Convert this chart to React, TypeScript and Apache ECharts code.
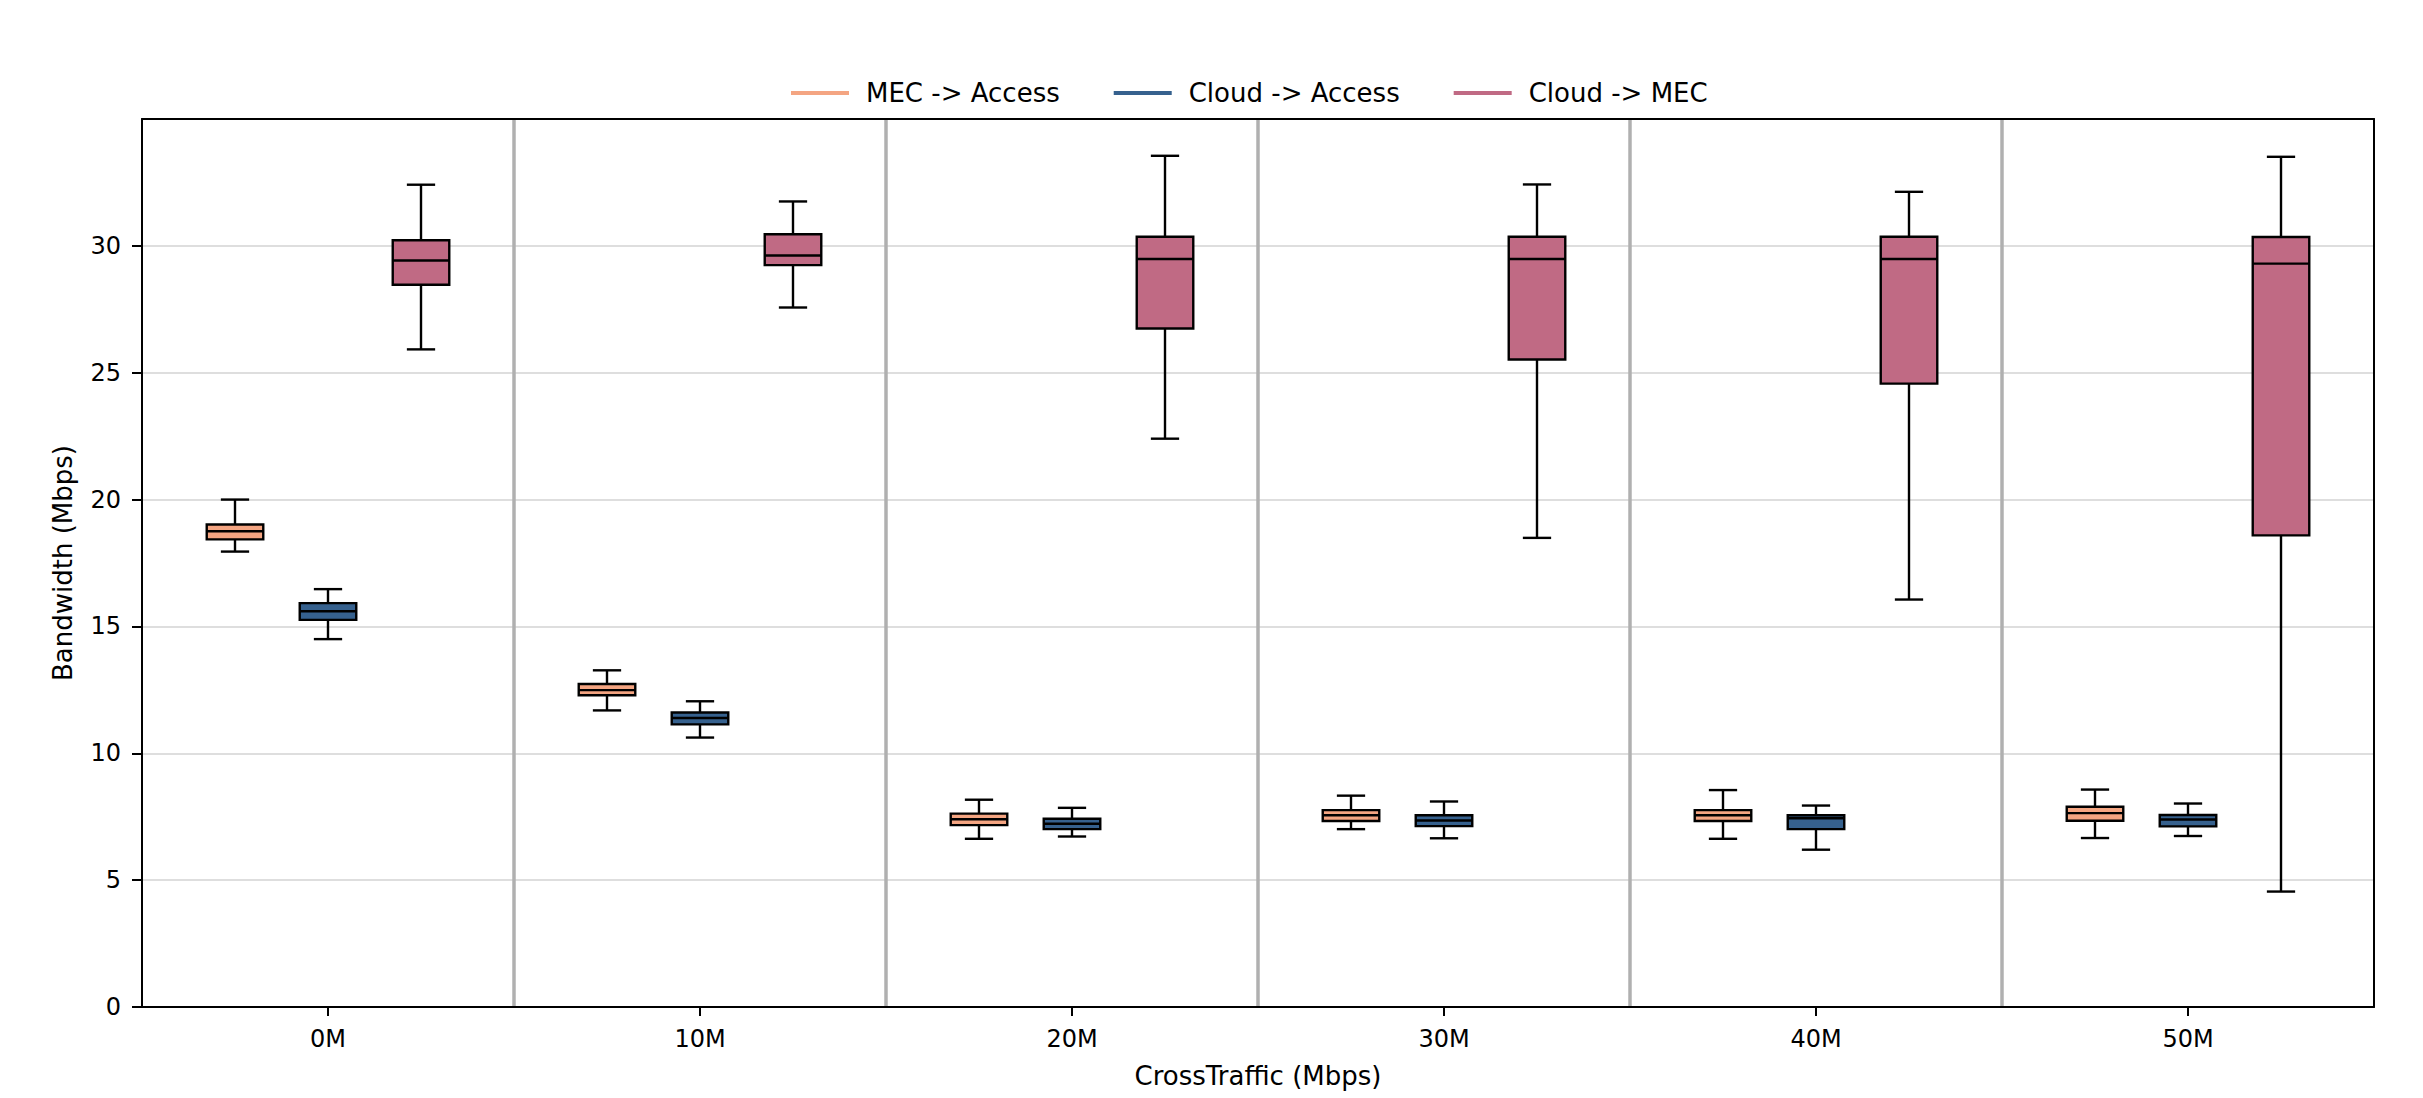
import React, { useEffect, useRef } from "react";
import * as echarts from "echarts";

// Categories (cross traffic)
const categories = ["0M", "10M", "20M", "30M", "40M", "50M"];

// Box statistics per category: [lowWhisker, Q1, median, Q3, highWhisker]
const mecToAccess = [
  [17.95, 18.43, 18.75, 19.02, 20.0],
  [11.69, 12.29, 12.49, 12.73, 13.27],
  [6.63, 7.17, 7.4, 7.62, 8.17],
  [7.01, 7.33, 7.56, 7.76, 8.33],
  [6.63, 7.33, 7.56, 7.76, 8.55],
  [6.66, 7.34, 7.64, 7.89, 8.57],
];
const cloudToAccess = [
  [14.5, 15.26, 15.6, 15.92, 16.47],
  [10.62, 11.14, 11.39, 11.61, 12.05],
  [6.72, 7.01, 7.22, 7.42, 7.85],
  [6.65, 7.13, 7.35, 7.56, 8.1],
  [6.2, 7.01, 7.44, 7.56, 7.94],
  [6.74, 7.12, 7.39, 7.57, 8.02],
];
const cloudToMec = [
  [25.92, 28.47, 29.42, 30.22, 32.41],
  [27.57, 29.24, 29.62, 30.46, 31.75],
  [22.4, 26.74, 29.48, 30.36, 33.55],
  [18.49, 25.52, 29.48, 30.36, 32.42],
  [16.06, 24.57, 29.48, 30.36, 32.13],
  [4.55, 18.59, 29.3, 30.35, 33.51],
];

const seriesNames = ["MEC -> Access", "Cloud -> Access", "Cloud -> MEC"];
const seriesColors = ["#f4a582", "#36618e", "#c06a84"];
const seriesOffsets = [-0.25, 0, 0.25];
const seriesData = [mecToAccess, cloudToAccess, cloudToMec];

const yTicks = { min: 0, max: 35, interval: 5 };

const FONT = "DejaVu Sans";

function makeRenderItem(offset: number, color: string) {
  return (params: any, api: any) => {
    const xi = api.value(0);
    const band = api.size([1, 0])[0];
    const cx = api.coord([xi, 0])[0] + offset * band;
    const yLow = api.coord([xi, api.value(1)])[1];
    const yQ1 = api.coord([xi, api.value(2)])[1];
    const yMed = api.coord([xi, api.value(3)])[1];
    const yQ3 = api.coord([xi, api.value(4)])[1];
    const yHigh = api.coord([xi, api.value(5)])[1];
    const bw = band * 0.152;
    const cw = bw / 2;
    const lineStyle = { stroke: "#000", lineWidth: 2.4, fill: null };
    return {
      type: "group",
      children: [
        { type: "line", shape: { x1: cx, y1: yLow, x2: cx, y2: yQ1 }, style: lineStyle },
        { type: "line", shape: { x1: cx, y1: yQ3, x2: cx, y2: yHigh }, style: lineStyle },
        { type: "line", shape: { x1: cx - cw / 2, y1: yLow, x2: cx + cw / 2, y2: yLow }, style: lineStyle },
        { type: "line", shape: { x1: cx - cw / 2, y1: yHigh, x2: cx + cw / 2, y2: yHigh }, style: lineStyle },
        {
          type: "rect",
          shape: { x: cx - bw / 2, y: yQ3, width: bw, height: yQ1 - yQ3 },
          style: { fill: color, stroke: "#000", lineWidth: 2.4 },
        },
        { type: "line", shape: { x1: cx - bw / 2, y1: yMed, x2: cx + bw / 2, y2: yMed }, style: lineStyle },
      ],
    };
  };
}

export default function App() {
  const ref = useRef<HTMLDivElement>(null);
  useEffect(() => {
    document.body.style.margin = "0";
    if (!ref.current) return;
    const chart = echarts.init(ref.current, null, { renderer: "svg" });
    const series = seriesNames.map((name, si) => ({
      name,
      type: "custom",
      renderItem: makeRenderItem(seriesOffsets[si], seriesColors[si]),
      itemStyle: { color: seriesColors[si] },
      encode: { x: 0, y: [1, 2, 3, 4, 5] },
      data: seriesData[si].map((d, i) => [categories[i], ...d]),
      z: 5,
    }));
    chart.setOption({
      animation: false,
      backgroundColor: "#fff",
      textStyle: { fontFamily: FONT },
      legend: {
        left: 791,
        top: 78,
        padding: 0,
        icon: "rect",
        itemWidth: 58,
        itemHeight: 4,
        itemGap: 54,
        textStyle: {
          fontFamily: FONT,
          fontSize: 26,
          color: "#000",
          lineHeight: 30,
          padding: [0, 0, 0, 12],
        },
        data: seriesNames,
      },
      grid: {
        left: 142,
        right: 49,
        top: 119,
        bottom: 91,
        containLabel: false,
        outerBoundsMode: "none",
      },
      xAxis: [
        {
          type: "category",
          data: categories,
          position: "bottom",
          name: "CrossTraffic (Mbps)",
          nameLocation: "middle",
          nameGap: 56,
          nameTextStyle: { fontFamily: FONT, fontSize: 26, color: "#000" },
          axisLine: { show: true, onZero: false, lineStyle: { color: "#000", width: 2 } },
          axisTick: {
            show: true,
            alignWithLabel: true,
            length: 9,
            lineStyle: { color: "#000", width: 2 },
          },
          axisLabel: { fontFamily: FONT, fontSize: 24, color: "#000", margin: 20 },
          splitLine: {
            show: true,
            showMinLine: false,
            showMaxLine: false,
            lineStyle: { color: "#b0b0b0", width: 3.5 },
          },
        },
        {
          type: "category",
          data: categories,
          position: "top",
          axisLine: { show: true, onZero: false, lineStyle: { color: "#000", width: 2 } },
          axisTick: { show: false },
          axisLabel: { show: false },
          splitLine: { show: false },
        },
      ],
      yAxis: [
        {
          type: "value",
          min: yTicks.min,
          max: yTicks.max,
          interval: yTicks.interval,
          name: "Bandwidth (Mbps)",
          nameLocation: "middle",
          nameGap: 66,
          nameTextStyle: { fontFamily: FONT, fontSize: 26, color: "#000" },
          axisLine: { show: true, onZero: false, lineStyle: { color: "#000", width: 2 } },
          axisTick: { show: true, length: 10, lineStyle: { color: "#000", width: 2 } },
          axisLabel: {
            fontFamily: FONT,
            fontSize: 24,
            color: "#000",
            margin: 21,
            showMaxLabel: false,
          },
          splitLine: {
            show: true,
            showMinLine: false,
            showMaxLine: false,
            lineStyle: { color: "#dedede", width: 2 },
          },
        },
        {
          type: "value",
          min: yTicks.min,
          max: yTicks.max,
          interval: yTicks.interval,
          position: "right",
          axisLine: { show: true, onZero: false, lineStyle: { color: "#000", width: 2 } },
          axisTick: { show: false },
          axisLabel: { show: false },
          splitLine: { show: false },
        },
      ],
      series,
    });
    return () => chart.dispose();
  }, []);
  return <div ref={ref} style={{ width: 2423, height: 1098 }} />;
}
